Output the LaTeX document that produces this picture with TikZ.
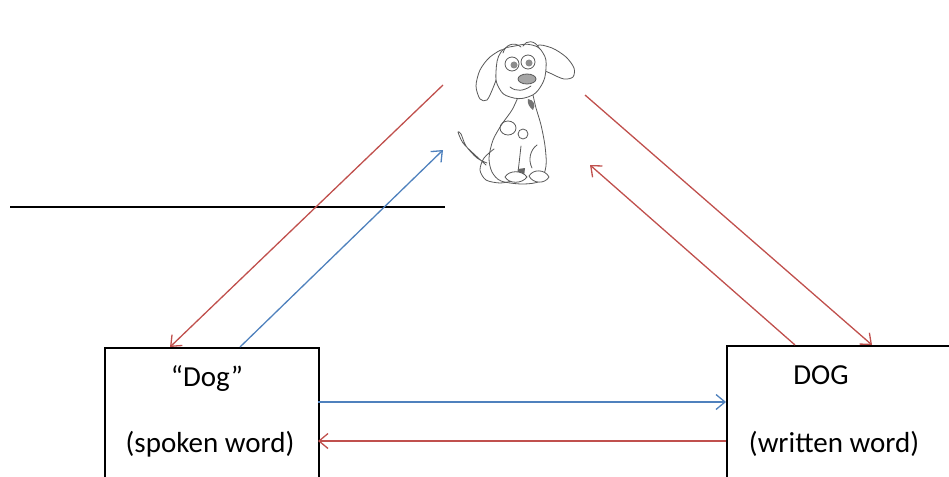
\documentclass[tikz,border=0pt]{standalone}
\usepackage{fontspec}
\setmainfont{Carlito}
\usetikzlibrary{shapes,arrows,positioning}
\usetikzlibrary{arrows.meta}
\definecolor{linkred}{RGB}{192,80,77}
\definecolor{linkblue}{RGB}{79,129,189}
\tikzstyle{redline} = [draw=linkred, line width=1.3pt, -{Straight Barb[length=9pt,width=15pt]}]
\tikzstyle{blueline} = [draw=linkblue, line width=1.3pt, -{Straight Barb[length=9pt,width=15pt]}]
\tikzstyle{wordbox} = [draw, line width=2pt, inner sep=0pt, anchor=north west]
\tikzstyle{word} = [font=\fontsize{29}{34}\selectfont, anchor=base, inner sep=0pt]
\tikzstyle{pencil} = [draw=black!65, line width=0.8pt, line cap=round, line join=round]

\begin{document}
\begin{tikzpicture}[x=1pt,y=-1pt]
    \useasboundingbox (0,0) rectangle (949,476);

    % the dog, pencil sketch
    \begin{scope}[pencil]
        % tail
        \draw plot[smooth] coordinates {(486,165) (474,154) (463,143) (458,132) (461,134) (466,146) (477,158) (487,163)};
        % body
        \draw[fill=white] plot[smooth] coordinates {(519,95) (512,110) (502,124) (493,140) (489,158) (492,172) (501,181) (522,184) (540,181) (546,166) (545,146) (541,125) (536,108) (533,95)};
        \fill[black!55] (528,99) .. controls (534,100) and (536,105) .. (533,110) .. controls (529,107) and (527,103) .. (528,99);
        % hind leg
        \draw plot[smooth] coordinates {(494,149) (484,158) (480,170) (486,180) (500,183) (512,181)};
        % front legs and paws
        \draw (521,146) .. controls (520,155) and (519,164) .. (518,172);
        \fill[black!60] (518,169) -- (525,168) -- (524,177) -- (517,177) -- cycle;
        \draw[fill=white] (505,177) .. controls (509,170) and (522,170) .. (527,177) .. controls (522,184) and (509,184) .. (505,177);
        \draw[fill=white] (529,176) .. controls (533,169) and (545,169) .. (549,177) .. controls (545,184) and (533,184) .. (529,176);
        % spots
        \draw (508,128) ellipse[x radius=8, y radius=7];
        \draw (523,134) circle[radius=5];
        \draw (537,145) .. controls (530,150) and (528,160) .. (532,168);
        % ears
        \draw[fill=white] plot[smooth cycle] coordinates {(504,50) (490,57) (480,70) (476,86) (480,99) (487,100) (493,88) (498,74)};
        \draw[fill=white] plot[smooth cycle] coordinates {(537,46) (552,48) (566,57) (574,68) (573,77) (564,79) (552,74) (543,68)};
        % head
        \draw[fill=white] plot[smooth cycle, tension=0.8] coordinates {(501,52) (515,46) (532,45) (543,53) (546,68) (541,86) (528,97) (510,97) (499,88) (496,72)};
        \draw (503,53) .. controls (505,45) and (514,41) .. (521,47);
        \draw (523,46) .. controls (526,40) and (535,40) .. (539,48);
        % eyes, nose, mouth
        \draw (512,64) circle[radius=7];
        \fill[black!45] (514,65) circle[radius=3.5];
        \draw (528,62) circle[radius=7];
        \fill[black!45] (529,63) circle[radius=3.5];
        \draw[fill=black!35] (527,79) ellipse[x radius=9, y radius=5];
        \draw (510,87) .. controls (516,92) and (524,91) .. (531,86);
    \end{scope}

    % ends of the links round the dog
    \coordinate (earL) at (443,85);
    \coordinate (pawL) at (443,150);
    \coordinate (earR) at (585,95);
    \coordinate (pawR) at (590,165);

    % divider
    \coordinate (cutL) at (10,207);
    \coordinate (cutR) at (445,207);
    \draw[line width=2.5pt] (cutL) -- (cutR);

    % the two word boxes
    \node[wordbox, minimum width=214pt, minimum height=160pt] (spoken) at (104,347) {};
    \node[wordbox, minimum width=240pt, minimum height=160pt] (written) at (726,345) {};

    \node[word] (saidlbl) at (207,386) {“Dog”};
    \node[word] (spokenlbl) at (210,452) {(spoken word)};
    \node[word] (capslbl) at (821,384) {DOG};
    \node[word] (writtenlbl) at (834,452) {(written word)};

    \coordinate (spokenA) at (170,347);
    \coordinate (spokenB) at (240,347);
    \coordinate (writtenA) at (872,345);
    \coordinate (writtenB) at (795,345);
    \coordinate (spokenHi) at (318,402);
    \coordinate (spokenLo) at (318,441);
    \coordinate (writtenHi) at (726,402);
    \coordinate (writtenLo) at (726,441);

    % links
    \path[redline] (earL) -- (spokenA);
    \path[blueline] (spokenB) -- (pawL);
    \path[redline] (earR) -- (writtenA);
    \path[redline] (writtenB) -- (pawR);
    \path[blueline] (spokenHi) -- (writtenHi);
    \path[redline] (writtenLo) -- (spokenLo);
\end{tikzpicture}
\end{document}
